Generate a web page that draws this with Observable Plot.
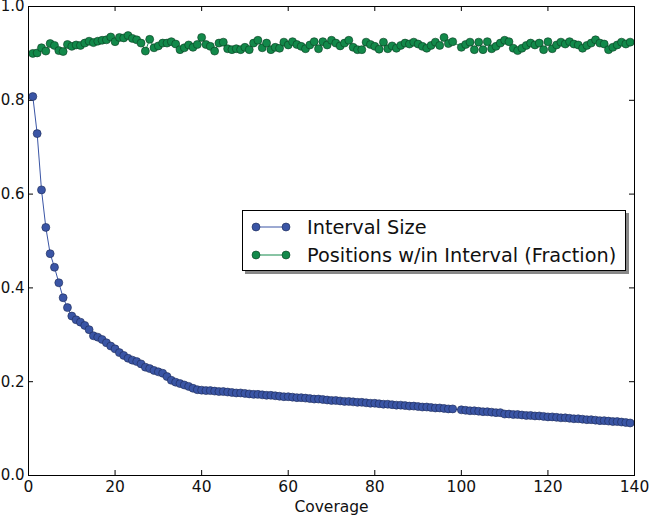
<!DOCTYPE html>
<html>
<head>
<meta charset="utf-8">
<script src="https://cdn.jsdelivr.net/npm/d3@7"></script>
<script src="https://cdn.jsdelivr.net/npm/@observablehq/plot@0.6"></script>
<style>
  body { margin: 0; background: #fff; font-family: "DejaVu Sans", sans-serif; }
  #wrap { position: relative; width: 650px; height: 515px; }
  #legend {
    position: absolute; left: 242px; top: 210px; width: 382px; height: 59px;
    border: 1px solid #000; background: #fff; box-shadow: 3px 3px 0 #888;
    font-family: "DejaVu Sans", sans-serif; font-size: 19.3px; color: #111;
  }
  .row { position: absolute; left: 0; height: 24px; display: flex; align-items: center; white-space: nowrap; }
  .row svg { margin-left: 8px; margin-right: 16px; }
</style>
</head>
<body>
<div id="wrap"></div>
<script>
// ---- data ----
const coverage = [1,2,3,4,5,6,7,8,9,10,11,12,13,14,15,16,17,18,19,20,21,22,23,24,25,26,27,28,29,30,
  31,32,33,34,35,36,37,38,39,40,41,42,43,44,45,46,47,48,49,50,51,52,53,54,55,56,57,58,59,60,
  61,62,63,64,65,66,67,68,69,70,71,72,73,74,75,76,77,78,79,80,81,82,83,84,85,86,87,88,89,90,
  91,92,93,94,95,96,97,98,100,101,102,103,104,105,106,107,108,109,110,111,112,113,114,115,116,117,118,119,120,
  121,122,123,124,125,126,127,128,129,130,131,132,133,134,135,136,137,138,139];

const intervalSize = [0.808,0.729,0.609,0.529,0.473,0.444,0.411,0.379,0.358,0.340,
  0.332,0.327,0.320,0.311,0.298,0.295,0.290,0.283,0.276,0.270,
  0.262,0.256,0.250,0.246,0.243,0.238,0.231,0.228,0.224,0.221,
  0.218,0.211,0.203,0.199,0.196,0.193,0.190,0.186,0.183,0.182,
  0.181,0.181,0.180,0.179,0.179,0.178,0.177,0.176,0.176,0.175,
  0.174,0.173,0.173,0.172,0.171,0.171,0.170,0.169,0.168,0.168,
  0.167,0.166,0.166,0.165,0.164,0.163,0.163,0.162,0.161,0.160,
  0.160,0.159,0.158,0.158,0.157,0.156,0.156,0.155,0.154,0.154,
  0.153,0.152,0.152,0.151,0.150,0.150,0.149,0.148,0.148,0.147,
  0.146,0.146,0.145,0.144,0.144,0.143,0.142,0.142,
  0.140,0.139,0.138,0.138,0.137,0.136,0.136,0.135,0.134,0.134,
  0.131,0.131,0.130,0.130,0.129,0.128,0.128,0.127,0.127,0.126,
  0.125,0.125,0.124,0.123,0.123,0.122,0.121,0.121,0.120,0.119,
  0.119,0.118,0.117,0.117,0.116,0.115,0.115,0.114,0.113,0.112];

const positionsFraction = [0.900,0.901,0.912,0.905,0.921,0.917,0.906,0.904,0.919,0.915,
  0.918,0.917,0.922,0.926,0.923,0.926,0.928,0.929,0.935,0.925,
  0.934,0.933,0.938,0.932,0.929,0.922,0.905,0.930,0.912,0.916,
  0.922,0.922,0.925,0.920,0.908,0.912,0.918,0.913,0.919,0.934,
  0.919,0.915,0.905,0.922,0.924,0.910,0.908,0.910,0.908,0.913,
  0.908,0.922,0.928,0.912,0.922,0.908,0.913,0.911,0.924,0.918,
  0.925,0.919,0.915,0.910,0.918,0.925,0.910,0.925,0.918,0.928,
  0.922,0.916,0.922,0.928,0.913,0.908,0.908,0.924,0.919,0.915,
  0.909,0.924,0.910,0.916,0.911,0.917,0.922,0.920,0.924,0.920,
  0.915,0.911,0.917,0.924,0.917,0.934,0.921,0.925,
  0.913,0.919,0.924,0.908,0.924,0.908,0.925,0.910,0.915,0.922,
  0.928,0.925,0.911,0.906,0.911,0.917,0.922,0.918,0.922,0.908,
  0.925,0.910,0.918,0.924,0.920,0.925,0.920,0.918,0.911,0.917,
  0.922,0.929,0.922,0.920,0.908,0.913,0.918,0.924,0.920,0.924];

const xTicks = [0,20,40,60,80,100,120,140];
const yTicks = [0.0,0.2,0.4,0.6,0.8,1.0];
const seriesNames = ["Interval Size", "Positions w/in Interval (Fraction)"];
const seriesColors = ["#3a55a5", "#12894a"];

const blue = coverage.map((c, i) => ({x: c, y: intervalSize[i]}));
const green = coverage.map((c, i) => ({x: c, y: positionsFraction[i]}));

const tx = 140 * 5 / 606, ty = 5 / 469; // inward tick lengths in data units

const chart = Plot.plot({
  width: 650, height: 515,
  marginLeft: 28, marginRight: 16, marginTop: 6, marginBottom: 40,
  style: {fontFamily: "DejaVu Sans, sans-serif", fontSize: "16.5px", color: "#111", background: "#fff", overflow: "visible"},
  x: {domain: [0, 140]},
  y: {domain: [0, 1]},
  marks: [
    Plot.axisX(xTicks, {tickSize: 0, tickPadding: 5, fontSize: 15.5, label: "Coverage", labelAnchor: "center", labelOffset: 36, labelArrow: "none"}),
    Plot.axisY(yTicks, {tickSize: 0, tickPadding: 4, fontSize: 15, tickFormat: d3.format(".1f"), label: null}),
    Plot.ruleX(xTicks, {x: d => d, y1: 0, y2: ty, stroke: "#000"}),
    Plot.ruleX(xTicks, {x: d => d, y1: 1, y2: 1 - ty, stroke: "#000"}),
    Plot.ruleY(yTicks, {y: d => d, x1: 0, x2: tx, stroke: "#000"}),
    Plot.ruleY(yTicks, {y: d => d, x1: 140, x2: 140 - tx, stroke: "#000"}),
    Plot.line(blue, {x: "x", y: "y", stroke: seriesColors[0], strokeWidth: 1}),
    Plot.dot(blue, {x: "x", y: "y", r: 4, fill: seriesColors[0], stroke: "#1c2a55", strokeWidth: 0.6}),
    Plot.line(green, {x: "x", y: "y", stroke: seriesColors[1], strokeWidth: 1}),
    Plot.dot(green, {x: "x", y: "y", r: 4, fill: seriesColors[1], stroke: "#0b3d22", strokeWidth: 0.6}),
    Plot.frame({stroke: "#000", strokeWidth: 1})
  ]
});

const wrap = document.getElementById("wrap");
wrap.appendChild(chart);

// legend
const legend = document.createElement("div");
legend.id = "legend";
seriesNames.forEach((name, i) => {
  const row = document.createElement("div");
  row.className = "row";
  row.style.top = (4 + i * 28) + "px";
  row.innerHTML = `<svg width="40" height="12"><line x1="5" y1="6" x2="35" y2="6" stroke="${seriesColors[i]}" stroke-width="1"/>` +
    `<circle cx="5" cy="6" r="4" fill="${seriesColors[i]}" stroke="${i ? '#0b3d22' : '#1c2a55'}" stroke-width="0.6"/>` +
    `<circle cx="35" cy="6" r="4" fill="${seriesColors[i]}" stroke="${i ? '#0b3d22' : '#1c2a55'}" stroke-width="0.6"/></svg><span>${name}</span>`;
  legend.appendChild(row);
});
wrap.appendChild(legend);
</script>
</body>
</html>
